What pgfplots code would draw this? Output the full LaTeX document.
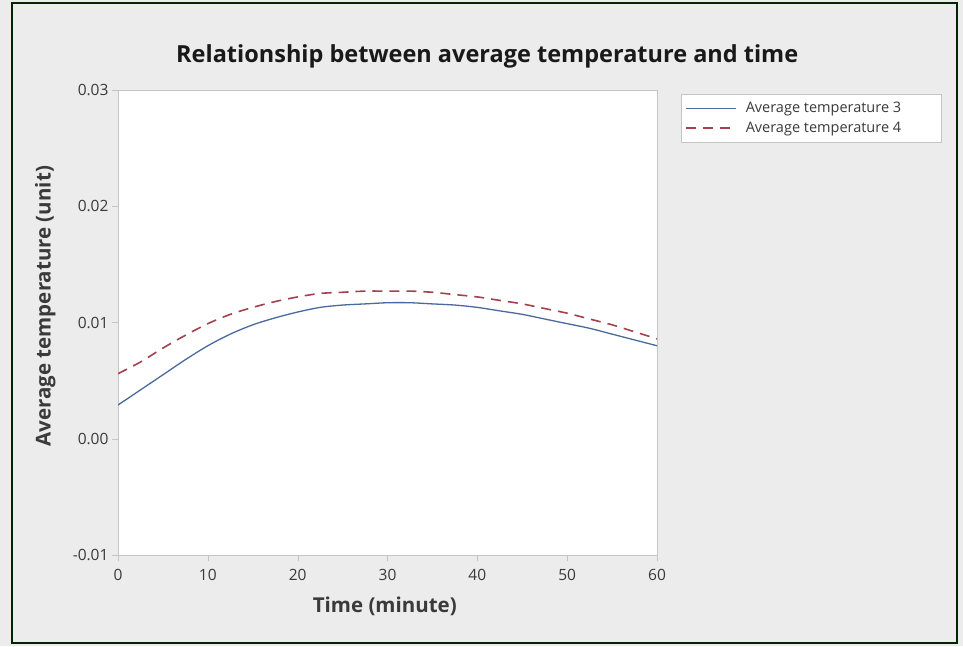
\documentclass[border=0pt]{standalone}
\usepackage{fontspec}
\setmainfont{Open Sans}
\usepackage{pgfplots}
\pgfplotsset{compat=1.18}
\definecolor{bg}{HTML}{ECECEC}
\definecolor{lineA}{HTML}{4A6A9E}
\definecolor{lineB}{HTML}{A3414F}
\definecolor{axgray}{HTML}{C4C4C4}
\definecolor{txt}{HTML}{3A3A3A}
\begin{document}
\begin{tikzpicture}[x=1pt,y=1pt]
\fill[bg] (0,0) rectangle (963,646);
\useasboundingbox (0,0) rectangle (963,646);
\draw[line width=2pt, color=black!85!green] (12,3) rectangle (957,643);
\begin{axis}[
  at={(118pt,91pt)}, anchor=south west,
  scale only axis, width=539pt, height=465pt,
  xmin=0, xmax=60, ymin=-0.01, ymax=0.03,
  xtick={0,10,...,60}, ytick={-0.01,0,0.01,0.02,0.03},
  scaled y ticks=false,
  yticklabel style={/pgf/number format/fixed, /pgf/number format/precision=2, /pgf/number format/fixed zerofill},
  xticklabel style={yshift=-5pt},
  /pgf/number format/assume math mode=true,
  ticklabel style={font=\fontsize{15.5}{18}\selectfont, text=txt},
  axis background/.style={fill=white},
  axis line style={axgray},
  tick style={axgray},
  tick align=outside, tick pos=left,
  major tick length=6pt,
  title={Relationship between average temperature and time},
  title style={at={(0.685,1.06)}, anchor=center, font=\bfseries\fontsize{23.5}{28}\selectfont, text=black!90},
  xlabel={Time (minute)},
  xlabel style={at={(axis description cs:0.495,-0.11)}, anchor=center, font=\bfseries\fontsize{20.5}{24}\selectfont, text=txt},
  ylabel={Average temperature (unit)},
  ylabel style={at={(axis description cs:-0.135,0.535)}, anchor=center, font=\bfseries\fontsize{20.5}{24}\selectfont, text=txt},
  legend style={at={(1.0445,0.9914)}, anchor=north west, draw=axgray, fill=white, font=\fontsize{14.5}{17}\selectfont, text=txt, inner xsep=4pt, inner ysep=6pt, row sep=4pt},
  legend cell align=left,
  legend image code/.code={\draw[#1] (0pt,0pt) -- (50pt,0pt);},
]
\addplot[lineA, line width=1.3pt, smooth] coordinates {
(0,0.0029) (2.5,0.0042) (5,0.0055) (7.5,0.0068) (10,0.0080) (12.5,0.0090)
(15,0.0098) (17.5,0.0104) (20,0.0109) (22.5,0.0113) (25,0.0115) (27.5,0.0116)
(30,0.0117) (32.5,0.0117) (35,0.0116) (37.5,0.0115) (40,0.0113) (42.5,0.0110)
(45,0.0107) (47.5,0.0103) (50,0.0099) (52.5,0.0095) (55,0.0090) (57.5,0.0085) (60,0.0080)
};
\addlegendentry{\makebox[196pt][l]{\hspace{7pt}Average temperature 3}}
\addplot[lineB, line width=1.6pt, dash pattern=on 10pt off 7pt, smooth] coordinates {
(0,0.0056) (2.5,0.0066) (5,0.0078) (7.5,0.0089) (10,0.0099) (12.5,0.0107)
(15,0.0113) (17.5,0.0118) (20,0.0122) (22.5,0.0125) (25,0.0126) (27.5,0.0127)
(30,0.0127) (32.5,0.0127) (35,0.0126) (37.5,0.0124) (40,0.0122) (42.5,0.0119)
(45,0.0116) (47.5,0.0112) (50,0.0108) (52.5,0.0103) (55,0.0098) (57.5,0.0092) (60,0.0086)
};
\addlegendentry{\makebox[196pt][l]{\hspace{7pt}Average temperature 4}}
\end{axis}
\end{tikzpicture}
\end{document}
